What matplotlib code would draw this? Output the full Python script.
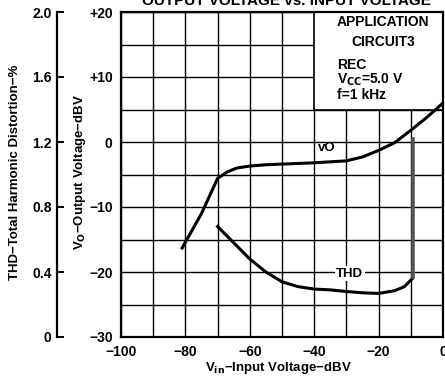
import numpy as np
import matplotlib.pyplot as plt
from matplotlib.patches import Rectangle

plt.rcParams['font.family'] = ['Liberation Sans', 'DejaVu Sans']
plt.rcParams['font.weight'] = 'bold'

# Vo vs Vin (dBV)
vin_vo = [-81, -75, -70, -67, -64, -60, -55, -50, -40, -30, -25, -20, -15, -10, -5, 0]
vo = [-16.3, -11.0, -5.6, -4.6, -4.0, -3.7, -3.5, -3.4, -3.2, -2.9, -2.3, -1.3, -0.1, 1.8, 3.8, 6.0]

# THD (%) vs Vin (dBV)
vin_thd = [-70, -65, -60, -55, -50, -45, -40, -35, -30, -25, -20, -15, -12, -9.5]
thd = [0.68, 0.58, 0.48, 0.40, 0.34, 0.31, 0.295, 0.29, 0.28, 0.272, 0.268, 0.285, 0.31, 0.36]
# vertical segment of THD curve at clipping
thd_jump_x = [-9.3, -9.3]
thd_jump_y = [0.37, 1.22]

xticks = [-100, -80, -60, -40, -20, 0]
yticks = [20, 10, 0, -10, -20, -30]
ytick_labels = ['+20', '+10', '0', '\u221210', '\u221220', '\u221230']
thd_ticks = [0, 0.4, 0.8, 1.2, 1.6, 2.0]
thd_labels = ['0', '0.4', '0.8', '1.2', '1.6', '2.0']

fig = plt.figure(figsize=(4.45, 3.77), dpi=100)
ax = fig.add_axes([121/445, 1-337/377, 322/445, 325/377])
ax.set_xlim(-100, 0)
ax.set_ylim(-30, 20)

ax.set_xticks(xticks)
ax.set_xticklabels(['\u2212100', '\u221280', '\u221260', '\u221240', '\u221220', '0'])
ax.set_xticks(np.arange(-90, 0, 10), minor=True)
ax.set_yticks(yticks)
ax.set_yticklabels(ytick_labels)
ax.set_yticks(np.arange(-25, 20, 10), minor=True)
ax.tick_params(which='both', length=0, labelsize=10, pad=6)
ax.grid(True, which='both', color='black', lw=1.0)
ax.set_axisbelow(True)
for s in ax.spines.values():
    s.set_linewidth(1.6)

# info box
ax.add_patch(Rectangle((-40, 5), 40, 15, facecolor='white', edgecolor='black',
                       lw=1.2, zorder=1.5))
fs_box = 10
ax.text(-33, 18.4, 'APPLICATION', fontsize=fs_box, va='center', zorder=3)
ax.text(-28.5, 15.4, 'CIRCUIT3', fontsize=fs_box, va='center', zorder=3)
ax.text(-33, 11.9, 'REC', fontsize=fs_box, va='center', zorder=3)
ax.text(-33, 9.5, 'V$_{\\mathbf{CC}}$=5.0 V', fontsize=fs_box, va='center', zorder=3)
ax.text(-33, 7.2, 'f=1 kHz', fontsize=fs_box, va='center', zorder=3)

ax.plot(vin_vo, vo, color='black', lw=2.2, zorder=4)
ax.text(-36, -0.9, 'vO', fontsize=9.5, ha='center', va='center', zorder=4)

# THD on its own axis, drawn on the left
ax2 = ax.twinx()
ax2.set_ylim(0, 2.0)
ax2.yaxis.tick_left()
ax2.yaxis.set_label_position('left')
ax2.spines['left'].set_position(('outward', 46))
ax2.spines['left'].set_bounds(0, 2.0)
ax2.spines['left'].set_linewidth(1.6)
for s in ['right', 'top', 'bottom']:
    ax2.spines[s].set_visible(False)
ax2.set_yticks(thd_ticks)
ax2.set_yticklabels(thd_labels)
ax2.tick_params(axis='y', direction='in', length=5, width=1.4, labelsize=10, pad=4)
ax2.plot(vin_thd, thd, color='black', lw=2.2, zorder=4)
ax2.plot(thd_jump_x, thd_jump_y, color='#555555', lw=2.6, zorder=4)
ax2.text(-29, 0.39, 'THD', fontsize=9.5, ha='center', va='center', zorder=5,
         bbox=dict(facecolor='white', edgecolor='none', pad=1))

fig.text(80/445, 1-172/377, 'V$_{\\mathbf{O}}$\u2212Output Voltage\u2212dBV', rotation=90,
         ha='center', va='center', fontsize=9.5)
fig.text(15/445, 1-172/377, 'THD\u2212Total Harmonic Distortion\u2212%', rotation=90,
         ha='center', va='center', fontsize=9.5)
fig.text(278/445, 1-368/377, 'V$_{\\mathbf{in}}$\u2212Input Voltage\u2212dBV',
         ha='center', va='center', fontsize=9.5)
fig.text(286/445, 1-1/377, 'OUTPUT VOLTAGE vs. INPUT VOLTAGE',
         ha='center', va='center', fontsize=11)

fig.savefig('out.png', dpi=100)
